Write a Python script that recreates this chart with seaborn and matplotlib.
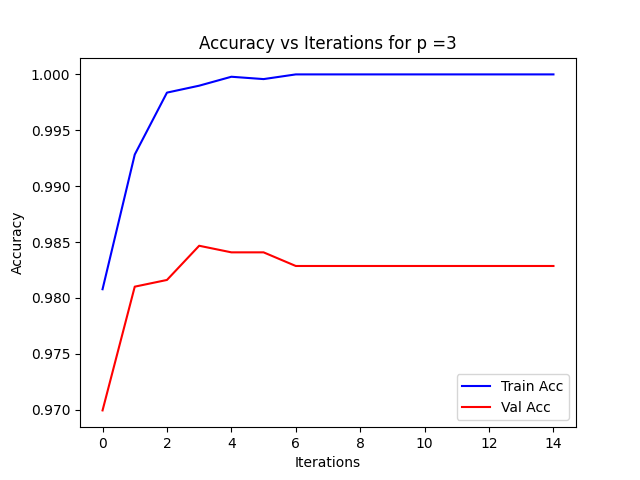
import matplotlib
matplotlib.use("Agg")
import matplotlib.pyplot as plt
import seaborn as sns
import pandas as pd

iterations = list(range(15))
train_acc = [0.98078, 0.99283, 0.99837, 0.99899, 0.99979, 0.99958,
             1.0, 1.0, 1.0, 1.0, 1.0, 1.0, 1.0, 1.0, 1.0]
val_acc = [0.96994, 0.98101, 0.98161, 0.98467, 0.98408, 0.98408,
           0.98286, 0.98286, 0.98286, 0.98286, 0.98286, 0.98286, 0.98286, 0.98286, 0.98286]

fig, ax = plt.subplots(figsize=(6.4, 4.8), dpi=100)
sns.lineplot(x=iterations, y=train_acc, color="blue", label="Train Acc", ax=ax)
sns.lineplot(x=iterations, y=val_acc, color="red", label="Val Acc", ax=ax)
ax.set_title("Accuracy vs Iterations for p =3")
ax.set_xlabel("Iterations")
ax.set_ylabel("Accuracy")
ax.legend(loc="lower right")
fig.savefig("out.png", dpi=100)
